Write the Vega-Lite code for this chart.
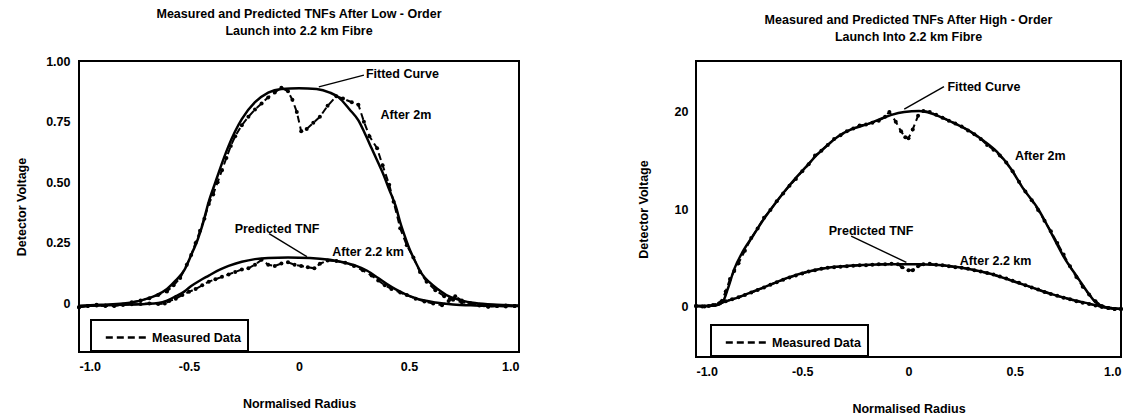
{
"$schema": "https://vega.github.io/schema/vega-lite/v6.json",
"background": "white",
"padding": {"left": 14, "top": 6, "right": 0, "bottom": 0},
"spacing": 111,
"config": {
  "font": "Liberation Sans",
  "view": {"stroke": "black", "strokeWidth": 2},
  "axis": {"grid": false, "domain": false, "ticks": false, "labelFont": "Liberation Sans", "labelFontSize": 12.5, "labelFontWeight": "bold", "labelColor": "black", "titleFont": "Liberation Sans", "titleFontSize": 12.5, "titleFontWeight": "bold", "titleColor": "black"},
  "title": {"font": "Liberation Sans", "fontSize": 12.5, "fontWeight": "bold", "color": "black", "lineHeight": 17, "anchor": "middle"},
  "legend": {"strokeWidth": 2}
},
"resolve": {"scale": {"strokeDash": "independent"}, "legend": {"strokeDash": "independent"}},
"datasets": {
  "low": [
    {"series":"fit2m","kind":"Model","radius":-1.0,"voltage":-0.01},
    {"series":"fit2m","kind":"Model","radius":-0.9,"voltage":-0.005},
    {"series":"fit2m","kind":"Model","radius":-0.8,"voltage":0.0},
    {"series":"fit2m","kind":"Model","radius":-0.72,"voltage":0.012},
    {"series":"fit2m","kind":"Model","radius":-0.65,"voltage":0.033},
    {"series":"fit2m","kind":"Model","radius":-0.6,"voltage":0.06},
    {"series":"fit2m","kind":"Model","radius":-0.56,"voltage":0.095},
    {"series":"fit2m","kind":"Model","radius":-0.52,"voltage":0.14},
    {"series":"fit2m","kind":"Model","radius":-0.49,"voltage":0.2},
    {"series":"fit2m","kind":"Model","radius":-0.46,"voltage":0.265},
    {"series":"fit2m","kind":"Model","radius":-0.44,"voltage":0.32},
    {"series":"fit2m","kind":"Model","radius":-0.41,"voltage":0.42},
    {"series":"fit2m","kind":"Model","radius":-0.38,"voltage":0.5},
    {"series":"fit2m","kind":"Model","radius":-0.365,"voltage":0.54},
    {"series":"fit2m","kind":"Model","radius":-0.32,"voltage":0.65},
    {"series":"fit2m","kind":"Model","radius":-0.26,"voltage":0.76},
    {"series":"fit2m","kind":"Model","radius":-0.2,"voltage":0.83},
    {"series":"fit2m","kind":"Model","radius":-0.14,"voltage":0.87},
    {"series":"fit2m","kind":"Model","radius":-0.08,"voltage":0.885},
    {"series":"fit2m","kind":"Model","radius":0.0,"voltage":0.888},
    {"series":"fit2m","kind":"Model","radius":0.08,"voltage":0.885},
    {"series":"fit2m","kind":"Model","radius":0.14,"voltage":0.87},
    {"series":"fit2m","kind":"Model","radius":0.18,"voltage":0.85},
    {"series":"fit2m","kind":"Model","radius":0.23,"voltage":0.8},
    {"series":"fit2m","kind":"Model","radius":0.27,"voltage":0.755},
    {"series":"fit2m","kind":"Model","radius":0.3,"voltage":0.7},
    {"series":"fit2m","kind":"Model","radius":0.33,"voltage":0.64},
    {"series":"fit2m","kind":"Model","radius":0.36,"voltage":0.58},
    {"series":"fit2m","kind":"Model","radius":0.38,"voltage":0.54},
    {"series":"fit2m","kind":"Model","radius":0.41,"voltage":0.47},
    {"series":"fit2m","kind":"Model","radius":0.44,"voltage":0.4},
    {"series":"fit2m","kind":"Model","radius":0.46,"voltage":0.335},
    {"series":"fit2m","kind":"Model","radius":0.48,"voltage":0.28},
    {"series":"fit2m","kind":"Model","radius":0.5,"voltage":0.23},
    {"series":"fit2m","kind":"Model","radius":0.53,"voltage":0.17},
    {"series":"fit2m","kind":"Model","radius":0.56,"voltage":0.12},
    {"series":"fit2m","kind":"Model","radius":0.59,"voltage":0.09},
    {"series":"fit2m","kind":"Model","radius":0.63,"voltage":0.06},
    {"series":"fit2m","kind":"Model","radius":0.68,"voltage":0.03},
    {"series":"fit2m","kind":"Model","radius":0.74,"voltage":0.012},
    {"series":"fit2m","kind":"Model","radius":0.8,"voltage":0.002},
    {"series":"fit2m","kind":"Model","radius":0.9,"voltage":-0.005},
    {"series":"fit2m","kind":"Model","radius":1.0,"voltage":-0.008},

    {"series":"tnf","kind":"Model","radius":-1.0,"voltage":-0.01},
    {"series":"tnf","kind":"Model","radius":-0.9,"voltage":-0.008},
    {"series":"tnf","kind":"Model","radius":-0.8,"voltage":-0.005},
    {"series":"tnf","kind":"Model","radius":-0.7,"voltage":-0.002},
    {"series":"tnf","kind":"Model","radius":-0.64,"voltage":0.002},
    {"series":"tnf","kind":"Model","radius":-0.6,"voltage":0.012},
    {"series":"tnf","kind":"Model","radius":-0.56,"voltage":0.03},
    {"series":"tnf","kind":"Model","radius":-0.52,"voltage":0.05},
    {"series":"tnf","kind":"Model","radius":-0.49,"voltage":0.072},
    {"series":"tnf","kind":"Model","radius":-0.45,"voltage":0.095},
    {"series":"tnf","kind":"Model","radius":-0.41,"voltage":0.115},
    {"series":"tnf","kind":"Model","radius":-0.36,"voltage":0.14},
    {"series":"tnf","kind":"Model","radius":-0.32,"voltage":0.155},
    {"series":"tnf","kind":"Model","radius":-0.26,"voltage":0.172},
    {"series":"tnf","kind":"Model","radius":-0.2,"voltage":0.183},
    {"series":"tnf","kind":"Model","radius":-0.14,"voltage":0.188},
    {"series":"tnf","kind":"Model","radius":-0.05,"voltage":0.19},
    {"series":"tnf","kind":"Model","radius":0.05,"voltage":0.188},
    {"series":"tnf","kind":"Model","radius":0.14,"voltage":0.18},
    {"series":"tnf","kind":"Model","radius":0.2,"voltage":0.17},
    {"series":"tnf","kind":"Model","radius":0.26,"voltage":0.155},
    {"series":"tnf","kind":"Model","radius":0.31,"voltage":0.135},
    {"series":"tnf","kind":"Model","radius":0.36,"voltage":0.105},
    {"series":"tnf","kind":"Model","radius":0.4,"voltage":0.08},
    {"series":"tnf","kind":"Model","radius":0.44,"voltage":0.058},
    {"series":"tnf","kind":"Model","radius":0.48,"voltage":0.04},
    {"series":"tnf","kind":"Model","radius":0.52,"voltage":0.025},
    {"series":"tnf","kind":"Model","radius":0.57,"voltage":0.012},
    {"series":"tnf","kind":"Model","radius":0.62,"voltage":0.004},
    {"series":"tnf","kind":"Model","radius":0.7,"voltage":-0.004},
    {"series":"tnf","kind":"Model","radius":0.8,"voltage":-0.008},
    {"series":"tnf","kind":"Model","radius":0.9,"voltage":-0.01},
    {"series":"tnf","kind":"Model","radius":1.0,"voltage":-0.01},

    {"series":"m2m","kind":"Measured Data","radius":-1.0,"voltage":-0.015},
    {"series":"m2m","kind":"Measured Data","radius":-0.96,"voltage":-0.01},
    {"series":"m2m","kind":"Measured Data","radius":-0.92,"voltage":-0.005},
    {"series":"m2m","kind":"Measured Data","radius":-0.88,"voltage":-0.008},
    {"series":"m2m","kind":"Measured Data","radius":-0.84,"voltage":-0.01},
    {"series":"m2m","kind":"Measured Data","radius":-0.8,"voltage":-0.005},
    {"series":"m2m","kind":"Measured Data","radius":-0.76,"voltage":0.005},
    {"series":"m2m","kind":"Measured Data","radius":-0.72,"voltage":0.012},
    {"series":"m2m","kind":"Measured Data","radius":-0.68,"voltage":0.022},
    {"series":"m2m","kind":"Measured Data","radius":-0.64,"voltage":0.035},
    {"series":"m2m","kind":"Measured Data","radius":-0.6,"voltage":0.05},
    {"series":"m2m","kind":"Measured Data","radius":-0.57,"voltage":0.075},
    {"series":"m2m","kind":"Measured Data","radius":-0.54,"voltage":0.105},
    {"series":"m2m","kind":"Measured Data","radius":-0.51,"voltage":0.16},
    {"series":"m2m","kind":"Measured Data","radius":-0.49,"voltage":0.2},
    {"series":"m2m","kind":"Measured Data","radius":-0.47,"voltage":0.25},
    {"series":"m2m","kind":"Measured Data","radius":-0.45,"voltage":0.3},
    {"series":"m2m","kind":"Measured Data","radius":-0.43,"voltage":0.35},
    {"series":"m2m","kind":"Measured Data","radius":-0.41,"voltage":0.41},
    {"series":"m2m","kind":"Measured Data","radius":-0.39,"voltage":0.45},
    {"series":"m2m","kind":"Measured Data","radius":-0.37,"voltage":0.5},
    {"series":"m2m","kind":"Measured Data","radius":-0.35,"voltage":0.55},
    {"series":"m2m","kind":"Measured Data","radius":-0.33,"voltage":0.6},
    {"series":"m2m","kind":"Measured Data","radius":-0.31,"voltage":0.65},
    {"series":"m2m","kind":"Measured Data","radius":-0.29,"voltage":0.69},
    {"series":"m2m","kind":"Measured Data","radius":-0.26,"voltage":0.735},
    {"series":"m2m","kind":"Measured Data","radius":-0.23,"voltage":0.77},
    {"series":"m2m","kind":"Measured Data","radius":-0.2,"voltage":0.8},
    {"series":"m2m","kind":"Measured Data","radius":-0.17,"voltage":0.825},
    {"series":"m2m","kind":"Measured Data","radius":-0.14,"voltage":0.85},
    {"series":"m2m","kind":"Measured Data","radius":-0.11,"voltage":0.87},
    {"series":"m2m","kind":"Measured Data","radius":-0.08,"voltage":0.89},
    {"series":"m2m","kind":"Measured Data","radius":-0.05,"voltage":0.875},
    {"series":"m2m","kind":"Measured Data","radius":-0.03,"voltage":0.84},
    {"series":"m2m","kind":"Measured Data","radius":-0.01,"voltage":0.79},
    {"series":"m2m","kind":"Measured Data","radius":0.01,"voltage":0.71},
    {"series":"m2m","kind":"Measured Data","radius":0.035,"voltage":0.72},
    {"series":"m2m","kind":"Measured Data","radius":0.065,"voltage":0.745},
    {"series":"m2m","kind":"Measured Data","radius":0.095,"voltage":0.77},
    {"series":"m2m","kind":"Measured Data","radius":0.13,"voltage":0.815},
    {"series":"m2m","kind":"Measured Data","radius":0.17,"voltage":0.855},
    {"series":"m2m","kind":"Measured Data","radius":0.2,"voltage":0.845},
    {"series":"m2m","kind":"Measured Data","radius":0.24,"voltage":0.83},
    {"series":"m2m","kind":"Measured Data","radius":0.27,"voltage":0.82},
    {"series":"m2m","kind":"Measured Data","radius":0.295,"voltage":0.75},
    {"series":"m2m","kind":"Measured Data","radius":0.32,"voltage":0.69},
    {"series":"m2m","kind":"Measured Data","radius":0.355,"voltage":0.64},
    {"series":"m2m","kind":"Measured Data","radius":0.38,"voltage":0.57},
    {"series":"m2m","kind":"Measured Data","radius":0.41,"voltage":0.49},
    {"series":"m2m","kind":"Measured Data","radius":0.43,"voltage":0.42},
    {"series":"m2m","kind":"Measured Data","radius":0.46,"voltage":0.31},
    {"series":"m2m","kind":"Measured Data","radius":0.49,"voltage":0.24},
    {"series":"m2m","kind":"Measured Data","radius":0.52,"voltage":0.19},
    {"series":"m2m","kind":"Measured Data","radius":0.55,"voltage":0.13},
    {"series":"m2m","kind":"Measured Data","radius":0.58,"voltage":0.09},
    {"series":"m2m","kind":"Measured Data","radius":0.62,"voltage":0.055},
    {"series":"m2m","kind":"Measured Data","radius":0.66,"voltage":0.03},
    {"series":"m2m","kind":"Measured Data","radius":0.7,"voltage":0.015},
    {"series":"m2m","kind":"Measured Data","radius":0.74,"voltage":0.005},
    {"series":"m2m","kind":"Measured Data","radius":0.78,"voltage":0.0},
    {"series":"m2m","kind":"Measured Data","radius":0.82,"voltage":-0.005},
    {"series":"m2m","kind":"Measured Data","radius":0.86,"voltage":-0.012},
    {"series":"m2m","kind":"Measured Data","radius":0.9,"voltage":-0.01},
    {"series":"m2m","kind":"Measured Data","radius":0.94,"voltage":-0.008},
    {"series":"m2m","kind":"Measured Data","radius":0.98,"voltage":-0.01},

    {"series":"m22","kind":"Measured Data","radius":-1.0,"voltage":-0.015},
    {"series":"m22","kind":"Measured Data","radius":-0.96,"voltage":-0.01},
    {"series":"m22","kind":"Measured Data","radius":-0.92,"voltage":-0.008},
    {"series":"m22","kind":"Measured Data","radius":-0.88,"voltage":-0.01},
    {"series":"m22","kind":"Measured Data","radius":-0.84,"voltage":-0.008},
    {"series":"m22","kind":"Measured Data","radius":-0.8,"voltage":-0.005},
    {"series":"m22","kind":"Measured Data","radius":-0.76,"voltage":-0.003},
    {"series":"m22","kind":"Measured Data","radius":-0.72,"voltage":-0.002},
    {"series":"m22","kind":"Measured Data","radius":-0.68,"voltage":0.0},
    {"series":"m22","kind":"Measured Data","radius":-0.64,"voltage":-0.002},
    {"series":"m22","kind":"Measured Data","radius":-0.61,"voltage":0.0},
    {"series":"m22","kind":"Measured Data","radius":-0.59,"voltage":0.01},
    {"series":"m22","kind":"Measured Data","radius":-0.56,"voltage":0.02},
    {"series":"m22","kind":"Measured Data","radius":-0.53,"voltage":0.035},
    {"series":"m22","kind":"Measured Data","radius":-0.5,"voltage":0.048},
    {"series":"m22","kind":"Measured Data","radius":-0.47,"voltage":0.06},
    {"series":"m22","kind":"Measured Data","radius":-0.44,"voltage":0.075},
    {"series":"m22","kind":"Measured Data","radius":-0.41,"voltage":0.09},
    {"series":"m22","kind":"Measured Data","radius":-0.38,"voltage":0.1},
    {"series":"m22","kind":"Measured Data","radius":-0.35,"voltage":0.11},
    {"series":"m22","kind":"Measured Data","radius":-0.32,"voltage":0.12},
    {"series":"m22","kind":"Measured Data","radius":-0.29,"voltage":0.13},
    {"series":"m22","kind":"Measured Data","radius":-0.26,"voltage":0.14},
    {"series":"m22","kind":"Measured Data","radius":-0.23,"voltage":0.145},
    {"series":"m22","kind":"Measured Data","radius":-0.2,"voltage":0.16},
    {"series":"m22","kind":"Measured Data","radius":-0.17,"voltage":0.18},
    {"series":"m22","kind":"Measured Data","radius":-0.14,"voltage":0.16},
    {"series":"m22","kind":"Measured Data","radius":-0.11,"voltage":0.155},
    {"series":"m22","kind":"Measured Data","radius":-0.08,"voltage":0.165},
    {"series":"m22","kind":"Measured Data","radius":-0.05,"voltage":0.17},
    {"series":"m22","kind":"Measured Data","radius":-0.02,"voltage":0.16},
    {"series":"m22","kind":"Measured Data","radius":0.01,"voltage":0.155},
    {"series":"m22","kind":"Measured Data","radius":0.04,"voltage":0.15},
    {"series":"m22","kind":"Measured Data","radius":0.07,"voltage":0.145},
    {"series":"m22","kind":"Measured Data","radius":0.095,"voltage":0.164},
    {"series":"m22","kind":"Measured Data","radius":0.13,"voltage":0.177},
    {"series":"m22","kind":"Measured Data","radius":0.17,"voltage":0.175},
    {"series":"m22","kind":"Measured Data","radius":0.21,"voltage":0.168},
    {"series":"m22","kind":"Measured Data","radius":0.25,"voltage":0.155},
    {"series":"m22","kind":"Measured Data","radius":0.29,"voltage":0.137},
    {"series":"m22","kind":"Measured Data","radius":0.33,"voltage":0.115},
    {"series":"m22","kind":"Measured Data","radius":0.36,"voltage":0.095},
    {"series":"m22","kind":"Measured Data","radius":0.39,"voltage":0.075},
    {"series":"m22","kind":"Measured Data","radius":0.42,"voltage":0.06},
    {"series":"m22","kind":"Measured Data","radius":0.46,"voltage":0.045},
    {"series":"m22","kind":"Measured Data","radius":0.49,"voltage":0.035},
    {"series":"m22","kind":"Measured Data","radius":0.53,"voltage":0.02},
    {"series":"m22","kind":"Measured Data","radius":0.57,"voltage":0.008},
    {"series":"m22","kind":"Measured Data","radius":0.61,"voltage":0.0},
    {"series":"m22","kind":"Measured Data","radius":0.65,"voltage":-0.007},
    {"series":"m22","kind":"Measured Data","radius":0.68,"voltage":0.01},
    {"series":"m22","kind":"Measured Data","radius":0.71,"voltage":0.03},
    {"series":"m22","kind":"Measured Data","radius":0.74,"voltage":0.012},
    {"series":"m22","kind":"Measured Data","radius":0.78,"voltage":0.0},
    {"series":"m22","kind":"Measured Data","radius":0.82,"voltage":-0.008},
    {"series":"m22","kind":"Measured Data","radius":0.86,"voltage":-0.013},
    {"series":"m22","kind":"Measured Data","radius":0.9,"voltage":-0.01},
    {"series":"m22","kind":"Measured Data","radius":0.94,"voltage":-0.012},
    {"series":"m22","kind":"Measured Data","radius":0.98,"voltage":-0.01}
  ],
  "high": [
    {"series":"fit2m","kind":"Model","radius":-1.0,"voltage":0.0},
    {"series":"fit2m","kind":"Model","radius":-0.95,"voltage":0.0},
    {"series":"fit2m","kind":"Model","radius":-0.9,"voltage":0.1},
    {"series":"fit2m","kind":"Model","radius":-0.87,"voltage":0.6},
    {"series":"fit2m","kind":"Model","radius":-0.85,"voltage":1.8},
    {"series":"fit2m","kind":"Model","radius":-0.82,"voltage":3.8},
    {"series":"fit2m","kind":"Model","radius":-0.78,"voltage":5.6},
    {"series":"fit2m","kind":"Model","radius":-0.73,"voltage":7.3},
    {"series":"fit2m","kind":"Model","radius":-0.68,"voltage":9.0},
    {"series":"fit2m","kind":"Model","radius":-0.63,"voltage":10.5},
    {"series":"fit2m","kind":"Model","radius":-0.58,"voltage":11.9},
    {"series":"fit2m","kind":"Model","radius":-0.53,"voltage":13.2},
    {"series":"fit2m","kind":"Model","radius":-0.48,"voltage":14.4},
    {"series":"fit2m","kind":"Model","radius":-0.43,"voltage":15.6},
    {"series":"fit2m","kind":"Model","radius":-0.38,"voltage":16.6},
    {"series":"fit2m","kind":"Model","radius":-0.33,"voltage":17.5},
    {"series":"fit2m","kind":"Model","radius":-0.27,"voltage":18.2},
    {"series":"fit2m","kind":"Model","radius":-0.2,"voltage":18.7},
    {"series":"fit2m","kind":"Model","radius":-0.14,"voltage":19.2},
    {"series":"fit2m","kind":"Model","radius":-0.08,"voltage":19.7},
    {"series":"fit2m","kind":"Model","radius":-0.02,"voltage":20.0},
    {"series":"fit2m","kind":"Model","radius":0.05,"voltage":20.1},
    {"series":"fit2m","kind":"Model","radius":0.1,"voltage":19.9},
    {"series":"fit2m","kind":"Model","radius":0.15,"voltage":19.5},
    {"series":"fit2m","kind":"Model","radius":0.21,"voltage":18.9},
    {"series":"fit2m","kind":"Model","radius":0.29,"voltage":18.0},
    {"series":"fit2m","kind":"Model","radius":0.355,"voltage":17.0},
    {"series":"fit2m","kind":"Model","radius":0.42,"voltage":15.8},
    {"series":"fit2m","kind":"Model","radius":0.48,"voltage":14.2},
    {"series":"fit2m","kind":"Model","radius":0.54,"voltage":12.1},
    {"series":"fit2m","kind":"Model","radius":0.61,"voltage":10.0},
    {"series":"fit2m","kind":"Model","radius":0.67,"voltage":7.6},
    {"series":"fit2m","kind":"Model","radius":0.73,"voltage":5.1},
    {"series":"fit2m","kind":"Model","radius":0.8,"voltage":2.8},
    {"series":"fit2m","kind":"Model","radius":0.85,"voltage":1.2},
    {"series":"fit2m","kind":"Model","radius":0.88,"voltage":0.4},
    {"series":"fit2m","kind":"Model","radius":0.91,"voltage":0.0},
    {"series":"fit2m","kind":"Model","radius":0.95,"voltage":-0.2},
    {"series":"fit2m","kind":"Model","radius":1.0,"voltage":-0.3},

    {"series":"tnf","kind":"Model","radius":-1.0,"voltage":0.0},
    {"series":"tnf","kind":"Model","radius":-0.95,"voltage":0.0},
    {"series":"tnf","kind":"Model","radius":-0.9,"voltage":0.15},
    {"series":"tnf","kind":"Model","radius":-0.87,"voltage":0.4},
    {"series":"tnf","kind":"Model","radius":-0.8,"voltage":0.9},
    {"series":"tnf","kind":"Model","radius":-0.73,"voltage":1.5},
    {"series":"tnf","kind":"Model","radius":-0.65,"voltage":2.2},
    {"series":"tnf","kind":"Model","radius":-0.57,"voltage":2.9},
    {"series":"tnf","kind":"Model","radius":-0.48,"voltage":3.5},
    {"series":"tnf","kind":"Model","radius":-0.38,"voltage":3.95},
    {"series":"tnf","kind":"Model","radius":-0.28,"voltage":4.15},
    {"series":"tnf","kind":"Model","radius":-0.18,"voltage":4.25},
    {"series":"tnf","kind":"Model","radius":-0.08,"voltage":4.3},
    {"series":"tnf","kind":"Model","radius":0.05,"voltage":4.3},
    {"series":"tnf","kind":"Model","radius":0.12,"voltage":4.25},
    {"series":"tnf","kind":"Model","radius":0.2,"voltage":4.1},
    {"series":"tnf","kind":"Model","radius":0.29,"voltage":3.8},
    {"series":"tnf","kind":"Model","radius":0.39,"voltage":3.3},
    {"series":"tnf","kind":"Model","radius":0.48,"voltage":2.65},
    {"series":"tnf","kind":"Model","radius":0.57,"voltage":2.0},
    {"series":"tnf","kind":"Model","radius":0.67,"voltage":1.25},
    {"series":"tnf","kind":"Model","radius":0.76,"voltage":0.7},
    {"series":"tnf","kind":"Model","radius":0.84,"voltage":0.3},
    {"series":"tnf","kind":"Model","radius":0.9,"voltage":0.0},
    {"series":"tnf","kind":"Model","radius":0.95,"voltage":-0.2},
    {"series":"tnf","kind":"Model","radius":1.0,"voltage":-0.3},

    {"series":"m2m","kind":"Measured Data","radius":-1.0,"voltage":0.0},
    {"series":"m2m","kind":"Measured Data","radius":-0.97,"voltage":-0.05},
    {"series":"m2m","kind":"Measured Data","radius":-0.94,"voltage":0.0},
    {"series":"m2m","kind":"Measured Data","radius":-0.91,"voltage":0.1},
    {"series":"m2m","kind":"Measured Data","radius":-0.88,"voltage":0.5},
    {"series":"m2m","kind":"Measured Data","radius":-0.86,"voltage":1.5},
    {"series":"m2m","kind":"Measured Data","radius":-0.84,"voltage":2.8},
    {"series":"m2m","kind":"Measured Data","radius":-0.82,"voltage":3.6},
    {"series":"m2m","kind":"Measured Data","radius":-0.8,"voltage":4.4},
    {"series":"m2m","kind":"Measured Data","radius":-0.77,"voltage":5.7},
    {"series":"m2m","kind":"Measured Data","radius":-0.74,"voltage":7.0},
    {"series":"m2m","kind":"Measured Data","radius":-0.71,"voltage":8.0},
    {"series":"m2m","kind":"Measured Data","radius":-0.68,"voltage":9.1},
    {"series":"m2m","kind":"Measured Data","radius":-0.65,"voltage":9.9},
    {"series":"m2m","kind":"Measured Data","radius":-0.62,"voltage":10.8},
    {"series":"m2m","kind":"Measured Data","radius":-0.59,"voltage":11.6},
    {"series":"m2m","kind":"Measured Data","radius":-0.56,"voltage":12.4},
    {"series":"m2m","kind":"Measured Data","radius":-0.53,"voltage":13.1},
    {"series":"m2m","kind":"Measured Data","radius":-0.5,"voltage":13.9},
    {"series":"m2m","kind":"Measured Data","radius":-0.47,"voltage":14.6},
    {"series":"m2m","kind":"Measured Data","radius":-0.44,"voltage":15.5},
    {"series":"m2m","kind":"Measured Data","radius":-0.41,"voltage":16.0},
    {"series":"m2m","kind":"Measured Data","radius":-0.38,"voltage":16.6},
    {"series":"m2m","kind":"Measured Data","radius":-0.35,"voltage":17.2},
    {"series":"m2m","kind":"Measured Data","radius":-0.32,"voltage":17.6},
    {"series":"m2m","kind":"Measured Data","radius":-0.29,"voltage":18.0},
    {"series":"m2m","kind":"Measured Data","radius":-0.26,"voltage":18.3},
    {"series":"m2m","kind":"Measured Data","radius":-0.23,"voltage":18.6},
    {"series":"m2m","kind":"Measured Data","radius":-0.2,"voltage":18.7},
    {"series":"m2m","kind":"Measured Data","radius":-0.17,"voltage":18.9},
    {"series":"m2m","kind":"Measured Data","radius":-0.14,"voltage":19.1},
    {"series":"m2m","kind":"Measured Data","radius":-0.11,"voltage":19.5},
    {"series":"m2m","kind":"Measured Data","radius":-0.09,"voltage":20.0},
    {"series":"m2m","kind":"Measured Data","radius":-0.06,"voltage":19.0},
    {"series":"m2m","kind":"Measured Data","radius":-0.035,"voltage":18.0},
    {"series":"m2m","kind":"Measured Data","radius":-0.015,"voltage":17.4},
    {"series":"m2m","kind":"Measured Data","radius":0.0,"voltage":17.3},
    {"series":"m2m","kind":"Measured Data","radius":0.02,"voltage":18.2},
    {"series":"m2m","kind":"Measured Data","radius":0.045,"voltage":19.6},
    {"series":"m2m","kind":"Measured Data","radius":0.07,"voltage":20.1},
    {"series":"m2m","kind":"Measured Data","radius":0.1,"voltage":20.0},
    {"series":"m2m","kind":"Measured Data","radius":0.13,"voltage":19.7},
    {"series":"m2m","kind":"Measured Data","radius":0.16,"voltage":19.4},
    {"series":"m2m","kind":"Measured Data","radius":0.19,"voltage":19.1},
    {"series":"m2m","kind":"Measured Data","radius":0.22,"voltage":18.8},
    {"series":"m2m","kind":"Measured Data","radius":0.25,"voltage":18.5},
    {"series":"m2m","kind":"Measured Data","radius":0.28,"voltage":18.1},
    {"series":"m2m","kind":"Measured Data","radius":0.31,"voltage":17.7},
    {"series":"m2m","kind":"Measured Data","radius":0.34,"voltage":17.2},
    {"series":"m2m","kind":"Measured Data","radius":0.37,"voltage":16.6},
    {"series":"m2m","kind":"Measured Data","radius":0.4,"voltage":16.1},
    {"series":"m2m","kind":"Measured Data","radius":0.43,"voltage":15.5},
    {"series":"m2m","kind":"Measured Data","radius":0.46,"voltage":14.8},
    {"series":"m2m","kind":"Measured Data","radius":0.49,"voltage":13.9},
    {"series":"m2m","kind":"Measured Data","radius":0.52,"voltage":12.8},
    {"series":"m2m","kind":"Measured Data","radius":0.55,"voltage":11.8},
    {"series":"m2m","kind":"Measured Data","radius":0.58,"voltage":10.9},
    {"series":"m2m","kind":"Measured Data","radius":0.61,"voltage":9.9},
    {"series":"m2m","kind":"Measured Data","radius":0.64,"voltage":8.8},
    {"series":"m2m","kind":"Measured Data","radius":0.67,"voltage":7.7},
    {"series":"m2m","kind":"Measured Data","radius":0.7,"voltage":6.5},
    {"series":"m2m","kind":"Measured Data","radius":0.73,"voltage":5.3},
    {"series":"m2m","kind":"Measured Data","radius":0.76,"voltage":4.1},
    {"series":"m2m","kind":"Measured Data","radius":0.79,"voltage":3.0},
    {"series":"m2m","kind":"Measured Data","radius":0.82,"voltage":2.0},
    {"series":"m2m","kind":"Measured Data","radius":0.85,"voltage":1.2},
    {"series":"m2m","kind":"Measured Data","radius":0.88,"voltage":0.5},
    {"series":"m2m","kind":"Measured Data","radius":0.91,"voltage":0.0},
    {"series":"m2m","kind":"Measured Data","radius":0.94,"voltage":-0.2},
    {"series":"m2m","kind":"Measured Data","radius":0.97,"voltage":-0.3},
    {"series":"m2m","kind":"Measured Data","radius":1.0,"voltage":-0.3},

    {"series":"m22","kind":"Measured Data","radius":-1.0,"voltage":0.0},
    {"series":"m22","kind":"Measured Data","radius":-0.96,"voltage":-0.05},
    {"series":"m22","kind":"Measured Data","radius":-0.92,"voltage":0.1},
    {"series":"m22","kind":"Measured Data","radius":-0.89,"voltage":0.3},
    {"series":"m22","kind":"Measured Data","radius":-0.86,"voltage":0.5},
    {"series":"m22","kind":"Measured Data","radius":-0.83,"voltage":0.7},
    {"series":"m22","kind":"Measured Data","radius":-0.8,"voltage":0.9},
    {"series":"m22","kind":"Measured Data","radius":-0.77,"voltage":1.15},
    {"series":"m22","kind":"Measured Data","radius":-0.74,"voltage":1.4},
    {"series":"m22","kind":"Measured Data","radius":-0.71,"voltage":1.65},
    {"series":"m22","kind":"Measured Data","radius":-0.68,"voltage":1.9},
    {"series":"m22","kind":"Measured Data","radius":-0.65,"voltage":2.2},
    {"series":"m22","kind":"Measured Data","radius":-0.62,"voltage":2.45},
    {"series":"m22","kind":"Measured Data","radius":-0.59,"voltage":2.7},
    {"series":"m22","kind":"Measured Data","radius":-0.56,"voltage":2.95},
    {"series":"m22","kind":"Measured Data","radius":-0.53,"voltage":3.15},
    {"series":"m22","kind":"Measured Data","radius":-0.5,"voltage":3.35},
    {"series":"m22","kind":"Measured Data","radius":-0.47,"voltage":3.55},
    {"series":"m22","kind":"Measured Data","radius":-0.44,"voltage":3.7},
    {"series":"m22","kind":"Measured Data","radius":-0.41,"voltage":3.85},
    {"series":"m22","kind":"Measured Data","radius":-0.38,"voltage":3.95},
    {"series":"m22","kind":"Measured Data","radius":-0.35,"voltage":4.0},
    {"series":"m22","kind":"Measured Data","radius":-0.32,"voltage":4.05},
    {"series":"m22","kind":"Measured Data","radius":-0.29,"voltage":4.1},
    {"series":"m22","kind":"Measured Data","radius":-0.26,"voltage":4.15},
    {"series":"m22","kind":"Measured Data","radius":-0.23,"voltage":4.2},
    {"series":"m22","kind":"Measured Data","radius":-0.2,"voltage":4.2},
    {"series":"m22","kind":"Measured Data","radius":-0.17,"voltage":4.25},
    {"series":"m22","kind":"Measured Data","radius":-0.14,"voltage":4.3},
    {"series":"m22","kind":"Measured Data","radius":-0.11,"voltage":4.3},
    {"series":"m22","kind":"Measured Data","radius":-0.08,"voltage":4.35},
    {"series":"m22","kind":"Measured Data","radius":-0.05,"voltage":4.3},
    {"series":"m22","kind":"Measured Data","radius":-0.03,"voltage":4.0},
    {"series":"m22","kind":"Measured Data","radius":0.0,"voltage":3.7},
    {"series":"m22","kind":"Measured Data","radius":0.02,"voltage":3.7},
    {"series":"m22","kind":"Measured Data","radius":0.045,"voltage":4.1},
    {"series":"m22","kind":"Measured Data","radius":0.07,"voltage":4.3},
    {"series":"m22","kind":"Measured Data","radius":0.1,"voltage":4.35},
    {"series":"m22","kind":"Measured Data","radius":0.13,"voltage":4.25},
    {"series":"m22","kind":"Measured Data","radius":0.16,"voltage":4.2},
    {"series":"m22","kind":"Measured Data","radius":0.19,"voltage":4.1},
    {"series":"m22","kind":"Measured Data","radius":0.22,"voltage":4.0},
    {"series":"m22","kind":"Measured Data","radius":0.25,"voltage":3.95},
    {"series":"m22","kind":"Measured Data","radius":0.28,"voltage":3.85},
    {"series":"m22","kind":"Measured Data","radius":0.31,"voltage":3.7},
    {"series":"m22","kind":"Measured Data","radius":0.34,"voltage":3.55},
    {"series":"m22","kind":"Measured Data","radius":0.37,"voltage":3.4},
    {"series":"m22","kind":"Measured Data","radius":0.4,"voltage":3.25},
    {"series":"m22","kind":"Measured Data","radius":0.43,"voltage":3.05},
    {"series":"m22","kind":"Measured Data","radius":0.46,"voltage":2.85},
    {"series":"m22","kind":"Measured Data","radius":0.49,"voltage":2.6},
    {"series":"m22","kind":"Measured Data","radius":0.52,"voltage":2.4},
    {"series":"m22","kind":"Measured Data","radius":0.55,"voltage":2.15},
    {"series":"m22","kind":"Measured Data","radius":0.58,"voltage":1.9},
    {"series":"m22","kind":"Measured Data","radius":0.61,"voltage":1.7},
    {"series":"m22","kind":"Measured Data","radius":0.64,"voltage":1.45},
    {"series":"m22","kind":"Measured Data","radius":0.67,"voltage":1.25},
    {"series":"m22","kind":"Measured Data","radius":0.7,"voltage":1.05},
    {"series":"m22","kind":"Measured Data","radius":0.73,"voltage":0.85},
    {"series":"m22","kind":"Measured Data","radius":0.76,"voltage":0.7},
    {"series":"m22","kind":"Measured Data","radius":0.79,"voltage":0.5},
    {"series":"m22","kind":"Measured Data","radius":0.82,"voltage":0.35},
    {"series":"m22","kind":"Measured Data","radius":0.85,"voltage":0.2},
    {"series":"m22","kind":"Measured Data","radius":0.88,"voltage":0.05},
    {"series":"m22","kind":"Measured Data","radius":0.91,"voltage":-0.1},
    {"series":"m22","kind":"Measured Data","radius":0.94,"voltage":-0.2},
    {"series":"m22","kind":"Measured Data","radius":0.97,"voltage":-0.3},
    {"series":"m22","kind":"Measured Data","radius":1.0,"voltage":-0.3}
  ],
  "lowNotes": [
    {"label":"Fitted Curve","radius":0.47,"voltage":0.946},
    {"label":"After 2m","radius":0.486,"voltage":0.778},
    {"label":"Predicted TNF","radius":-0.1,"voltage":0.309},
    {"label":"After 2.2 km","radius":0.314,"voltage":0.214}
  ],
  "lowLeaders": [
    {"radius":0.09,"voltage":0.893,"radius2":0.295,"voltage2":0.942},
    {"radius":-0.136,"voltage":0.288,"radius2":0.036,"voltage2":0.193}
  ],
  "highNotes": [
    {"label":"Fitted Curve","radius":0.355,"voltage":22.6},
    {"label":"After 2m","radius":0.62,"voltage":15.5},
    {"label":"Predicted TNF","radius":-0.176,"voltage":7.7},
    {"label":"After 2.2 km","radius":0.41,"voltage":4.6}
  ],
  "highLeaders": [
    {"radius":-0.02,"voltage":20.3,"radius2":0.167,"voltage2":22.6},
    {"radius":-0.27,"voltage":7.2,"radius2":-0.01,"voltage2":4.5}
  ]
},
"hconcat": [
  {
    "width": 440,
    "height": 291,
    "title": {"text": ["Measured and Predicted TNFs After Low - Order", "Launch into 2.2 km Fibre"], "offset": 18},
    "encoding": {
      "x": {"field": "radius", "type": "quantitative", "scale": {"domain": [-1, 1], "nice": false, "zero": false},
            "axis": {"title": "Normalised Radius", "values": [-1, -0.5, 0, 0.5, 1], "labelExpr": "datum.value == 0 ? '0' : (datum.value < 0 ? '-' : '') + format(abs(datum.value), '.1f')", "labelPadding": 8, "titlePadding": 25}},
      "y": {"field": "voltage", "type": "quantitative", "scale": {"domain": [-0.2, 1], "nice": false, "zero": false},
            "axis": {"title": "Detector Voltage", "values": [0, 0.25, 0.5, 0.75, 1], "labelExpr": "datum.value == 0 ? '0' : format(datum.value, '.2f')", "labelPadding": 9, "titlePadding": 17.5}}
    },
    "layer": [
      {"data": {"name": "low"}, "transform": [{"filter": "datum.kind == 'Model'"}],
       "mark": {"type": "line", "color": "black", "strokeWidth": 2.5, "interpolate": "monotone"},
       "encoding": {"detail": {"field": "series"}}},
      {"data": {"name": "low"}, "transform": [{"filter": "datum.kind == 'Measured Data'"}],
       "mark": {"type": "line", "color": "black", "strokeWidth": 2},
       "encoding": {"detail": {"field": "series"},
         "strokeDash": {"field": "kind", "type": "nominal", "scale": {"domain": ["Measured Data"], "range": [[7, 4]]},
           "legend": {"title": null, "orient": "none", "legendX": 12, "legendY": 259, "symbolType": "M-2.3,0H2.3", "symbolSize": 324, "symbolOffset": 18, "symbolStrokeWidth": 2.5, "symbolStrokeColor": "black", "symbolFillColor": "transparent", "symbolDash": [12, 7], "labelFont": "Liberation Sans", "labelFontSize": 12.5, "labelFontWeight": "bold", "labelColor": "black", "labelOffset": 15, "padding": 7, "strokeColor": "black", "fillColor": "white"}}}},
      {"data": {"name": "low"}, "transform": [{"filter": "datum.kind == 'Measured Data'"}],
       "mark": {"type": "point", "filled": true, "color": "black", "size": 16, "opacity": 1}},
      {"data": {"name": "lowLeaders"},
       "mark": {"type": "rule", "color": "black", "strokeWidth": 1.4},
       "encoding": {"x2": {"field": "radius2"}, "y2": {"field": "voltage2"}}},
      {"data": {"name": "lowNotes"},
       "mark": {"type": "text", "font": "Liberation Sans", "fontSize": 12.5, "fontWeight": "bold", "color": "black", "align": "center", "baseline": "middle"},
       "encoding": {"text": {"field": "label"}}}
    ]
  },
  {
    "width": 425,
    "height": 296,
    "title": {"text": ["Measured and Predicted TNFs After High - Order", "Launch Into 2.2 km Fibre"], "offset": 18},
    "encoding": {
      "x": {"field": "radius", "type": "quantitative", "scale": {"domain": [-1, 1], "nice": false, "zero": false},
            "axis": {"title": "Normalised Radius", "values": [-1, -0.5, 0, 0.5, 1], "labelExpr": "datum.value == 0 ? '0' : (datum.value < 0 ? '-' : '') + format(abs(datum.value), '.1f')", "labelPadding": 8, "titlePadding": 25}},
      "y": {"field": "voltage", "type": "quantitative", "scale": {"domain": [-5.25, 25.25], "nice": false, "zero": false},
            "axis": {"title": "Detector Voltage", "values": [0, 10, 20], "labelExpr": "format(datum.value, 'd')", "labelPadding": 8, "titlePadding": 24}}
    },
    "layer": [
      {"data": {"name": "high"}, "transform": [{"filter": "datum.kind == 'Model'"}],
       "mark": {"type": "line", "color": "black", "strokeWidth": 2.5, "interpolate": "monotone"},
       "encoding": {"detail": {"field": "series"}}},
      {"data": {"name": "high"}, "transform": [{"filter": "datum.kind == 'Measured Data'"}],
       "mark": {"type": "line", "color": "black", "strokeWidth": 2},
       "encoding": {"detail": {"field": "series"},
         "strokeDash": {"field": "kind", "type": "nominal", "scale": {"domain": ["Measured Data"], "range": [[7, 4]]},
           "legend": {"title": null, "orient": "none", "legendX": 15, "legendY": 264, "symbolType": "M-2.3,0H2.3", "symbolSize": 324, "symbolOffset": 18, "symbolStrokeWidth": 2.5, "symbolStrokeColor": "black", "symbolFillColor": "transparent", "symbolDash": [12, 7], "labelFont": "Liberation Sans", "labelFontSize": 12.5, "labelFontWeight": "bold", "labelColor": "black", "labelOffset": 15, "padding": 7, "strokeColor": "black", "fillColor": "white"}}}},
      {"data": {"name": "high"}, "transform": [{"filter": "datum.kind == 'Measured Data'"}],
       "mark": {"type": "point", "filled": true, "color": "black", "size": 16, "opacity": 1}},
      {"data": {"name": "highLeaders"},
       "mark": {"type": "rule", "color": "black", "strokeWidth": 1.4},
       "encoding": {"x2": {"field": "radius2"}, "y2": {"field": "voltage2"}}},
      {"data": {"name": "highNotes"},
       "mark": {"type": "text", "font": "Liberation Sans", "fontSize": 12.5, "fontWeight": "bold", "color": "black", "align": "center", "baseline": "middle"},
       "encoding": {"text": {"field": "label"}}}
    ]
  }
]
}
